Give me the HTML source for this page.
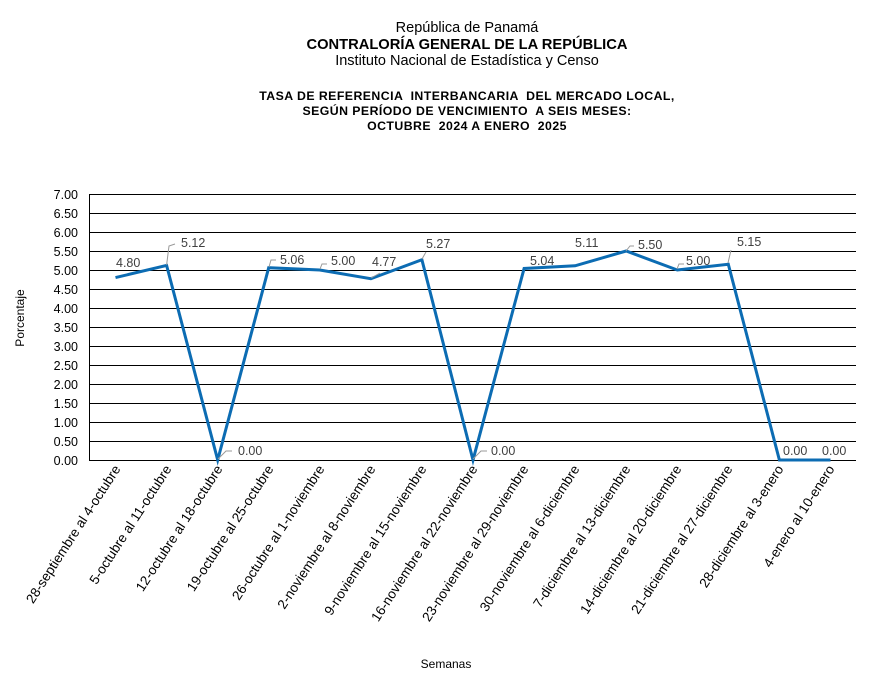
<!DOCTYPE html>
<html><head><meta charset="utf-8"><style>
body{margin:0;background:#fff;}
svg{display:block;font-family:"Liberation Sans",Arial,sans-serif;}
</style></head><body>
<svg width="878" height="679" viewBox="0 0 878 679">
<g text-anchor="middle" fill="#000">
<text x="467" y="32" font-size="14.5">República de Panamá</text>
<text x="467" y="49" font-size="14.7" font-weight="bold">CONTRALORÍA GENERAL DE LA REPÚBLICA</text>
<text x="467" y="65" font-size="14.5">Instituto Nacional de Estadística y Censo</text>
<text x="467" y="100" font-size="12.3" font-weight="bold" letter-spacing="0.45" xml:space="preserve">TASA DE REFERENCIA  INTERBANCARIA  DEL MERCADO LOCAL,</text>
<text x="467" y="115" font-size="12.3" font-weight="bold" letter-spacing="0.45" xml:space="preserve">SEGÚN PERÍODO DE VENCIMIENTO  A SEIS MESES:</text>
<text x="467" y="130" font-size="12.3" font-weight="bold" letter-spacing="0.45" xml:space="preserve">OCTUBRE  2024 A ENERO  2025</text>
</g>
<g stroke="#000" stroke-width="1">
<line x1="90" y1="194.5" x2="856" y2="194.5"/><line x1="90" y1="213.5" x2="856" y2="213.5"/>
<line x1="90" y1="232.5" x2="856" y2="232.5"/><line x1="90" y1="251.5" x2="856" y2="251.5"/>
<line x1="90" y1="270.5" x2="856" y2="270.5"/><line x1="90" y1="289.5" x2="856" y2="289.5"/>
<line x1="90" y1="308.5" x2="856" y2="308.5"/><line x1="90" y1="327.5" x2="856" y2="327.5"/>
<line x1="90" y1="346.5" x2="856" y2="346.5"/><line x1="90" y1="365.5" x2="856" y2="365.5"/>
<line x1="90" y1="384.5" x2="856" y2="384.5"/><line x1="90" y1="403.5" x2="856" y2="403.5"/>
<line x1="90" y1="422.5" x2="856" y2="422.5"/><line x1="90" y1="441.5" x2="856" y2="441.5"/>
<line x1="90" y1="460.5" x2="856" y2="460.5"/>
<line x1="89.5" y1="194" x2="89.5" y2="461"/>
</g>
<g font-size="12.5" text-anchor="end" fill="#000">
<text x="78" y="199">7.00</text><text x="78" y="218">6.50</text><text x="78" y="237">6.00</text>
<text x="78" y="256">5.50</text><text x="78" y="275">5.00</text><text x="78" y="294">4.50</text>
<text x="78" y="313">4.00</text><text x="78" y="332">3.50</text><text x="78" y="351">3.00</text>
<text x="78" y="370">2.50</text><text x="78" y="389">2.00</text><text x="78" y="408">1.50</text>
<text x="78" y="427">1.00</text><text x="78" y="446">0.50</text><text x="78" y="465">0.00</text>
</g>
<text x="24" y="318" font-size="12" text-anchor="middle" transform="rotate(-90 24 318)">Porcentaje</text>
<text x="446" y="668" font-size="12" text-anchor="middle">Semanas</text>
<polyline fill="none" stroke="#0c6cb3" stroke-width="3" stroke-linejoin="miter"
points="115.5,277.6 166.6,265.4 217.7,460 268.7,267.7 319.8,270 370.9,278.7 421.9,259.7 473,460 524.1,268.5 575.1,265.8 626.2,251 677.3,270 728.3,264.3 779.4,460 830.5,460"/>
<g stroke="#999" fill="none" stroke-width="1">
<polyline points="166.6,265 169,246 175,244"/>
<polyline points="218,459 226,451 232,451"/>
<polyline points="269,267 271,260 276,260"/>
<polyline points="320,269 322,264 327,264"/>
<polyline points="371,278 380,273"/>
<polyline points="422,259 426,252"/>
<polyline points="473,459 481,451 487,451"/>
<polyline points="626,251 630,246 634,246"/>
<polyline points="677,269 679,264 684,264"/>
<polyline points="728,263 731,250"/>
</g>
<g font-size="12.5" fill="#404040">
<text x="116" y="267">4.80</text>
<text x="181" y="247">5.12</text>
<text x="238" y="455">0.00</text>
<text x="280" y="264">5.06</text>
<text x="331" y="265">5.00</text>
<text x="372" y="266">4.77</text>
<text x="426" y="248">5.27</text>
<text x="491" y="455">0.00</text>
<text x="530" y="265">5.04</text>
<text x="575" y="247">5.11</text>
<text x="638" y="249">5.50</text>
<text x="686" y="265">5.00</text>
<text x="737" y="246">5.15</text>
<text x="783" y="455">0.00</text>
<text x="822" y="455">0.00</text>
</g>
<g font-size="13.5" text-anchor="end" fill="#000">
<text transform="translate(121,469) rotate(-57)">28-septiembre al 4-octubre</text>
<text transform="translate(172,469) rotate(-57)">5-octubre al 11-octubre</text>
<text transform="translate(223,469) rotate(-57)">12-octubre al 18-octubre</text>
<text transform="translate(274,469) rotate(-57)">19-octubre al 25-octubre</text>
<text transform="translate(325,469) rotate(-57)">26-octubre al 1-noviembre</text>
<text transform="translate(376,469) rotate(-57)">2-noviembre al 8-noviembre</text>
<text transform="translate(427,469) rotate(-57)">9-noviembre al 15-noviembre</text>
<text transform="translate(478,469) rotate(-57)">16-noviembre al 22-noviembre</text>
<text transform="translate(529,469) rotate(-57)">23-noviembre al 29-noviembre</text>
<text transform="translate(580,469) rotate(-57)">30-noviembre al 6-diciembre</text>
<text transform="translate(631,469) rotate(-57)">7-diciembre al 13-diciembre</text>
<text transform="translate(682,469) rotate(-57)">14-diciembre al 20-diciembre</text>
<text transform="translate(733,469) rotate(-57)">21-diciembre al 27-diciembre</text>
<text transform="translate(784,469) rotate(-57)">28-diciembre al 3-enero</text>
<text transform="translate(835,469) rotate(-57)">4-enero al 10-enero</text>
</g>
</svg>
</body></html>
